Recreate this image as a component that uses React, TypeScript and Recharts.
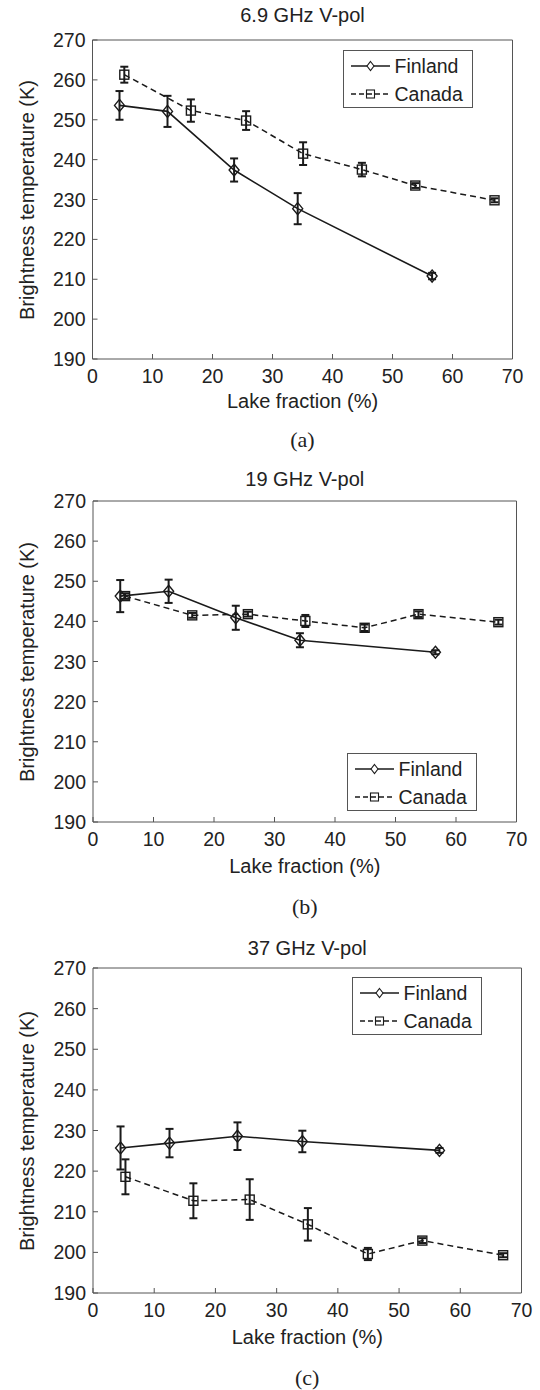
import React from "react";
import { ErrorBar, Legend, Line, LineChart, XAxis, YAxis } from "recharts";

// lake fraction bins (%)
const finlandLake = [4.5, 12.5, 23.6, 34.2, 56.6];
const canadaLake = [5.3, 16.4, 25.6, 35.1, 44.9, 53.8, 67.0];

// 6.9 GHz V-pol brightness temperature (K) and +/- std
const finland69 = [253.6, 252.1, 237.4, 227.7, 210.8];
const finland69Err = [3.6, 3.9, 2.9, 3.9, 0.8];
const canada69 = [261.3, 252.3, 249.8, 241.5, 237.5, 233.5, 229.8];
const canada69Err = [2.0, 2.8, 2.35, 2.85, 1.7, 0.6, 0.5];

// 19 GHz V-pol
const finland19 = [246.3, 247.5, 240.9, 235.3, 232.3];
const finland19Err = [4.0, 2.9, 3.0, 1.75, 0.5];
const canada19 = [246.3, 241.5, 241.8, 240.1, 238.4, 241.8, 239.8];
const canada19Err = [0.7, 0.6, 0.6, 1.5, 0.8, 0.7, 0.6];

// 37 GHz V-pol
const finland37 = [225.7, 226.9, 228.6, 227.3, 225.1];
const finland37Err = [5.3, 3.5, 3.4, 2.65, 0.6];
const canada37 = [218.6, 212.7, 213.0, 206.9, 199.6, 202.9, 199.3];
const canada37Err = [4.3, 4.3, 5.0, 4.0, 1.5, 0.6, 0.5];

const xTicks = [0, 10, 20, 30, 40, 50, 60, 70];
const yTicks = [190, 200, 210, 220, 230, 240, 250, 260, 270];

type Pt = { x: number; y: number; err: number };

const toPoints = (xs: number[], ys: number[], es: number[]): Pt[] =>
  xs.map((x, i) => ({ x, y: ys[i], err: es[i] }));

const INK = "#1a1a1a";
const AXIS = "#555";
const TEXT = "#222";
const SANS = '"Liberation Sans", Arial, Helvetica, sans-serif';
const SERIF = '"Liberation Serif", "Times New Roman", serif';

const panels = [
  {
    title: "6.9 GHz V-pol",
    caption: "(a)",
    finland: toPoints(finlandLake, finland69, finland69Err),
    canada: toPoints(canadaLake, canada69, canada69Err),
    top: 0,
    height: 460,
    plot: { left: 92.5, right: 512.5, top: 40, bottom: 359 },
    legendTop: 50,
    titleY: 22,
    labelY: 408,
    captionY: 448,
  },
  {
    title: "19 GHz V-pol",
    caption: "(b)",
    finland: toPoints(finlandLake, finland19, finland19Err),
    canada: toPoints(canadaLake, canada19, canada19Err),
    top: 460,
    height: 460,
    plot: { left: 93, right: 516.5, top: 501, bottom: 822 },
    legendTop: 753,
    titleY: 486,
    labelY: 873,
    captionY: 915,
  },
  {
    title: "37 GHz V-pol",
    caption: "(c)",
    finland: toPoints(finlandLake, finland37, finland37Err),
    canada: toPoints(canadaLake, canada37, canada37Err),
    top: 920,
    height: 470,
    plot: { left: 93, right: 521.5, top: 968, bottom: 1293 },
    legendTop: 977,
    titleY: 955,
    labelY: 1344,
    captionY: 1386,
  },
];

// MATLAB-style ticks: short marks pointing into the plot box
function BoxTick(props: any) {
  const { x, y, payload, side } = props;
  const len = 5;
  const v = payload.value;
  if (side === "bottom") {
    return (
      <g>
        <line x1={x} y1={y} x2={x} y2={y - len} stroke={AXIS} strokeWidth={1} />
        <text x={x} y={y + 24} textAnchor="middle" fill={TEXT} fontSize={19.5} fontFamily={SANS}>
          {v}
        </text>
      </g>
    );
  }
  if (side === "left") {
    return (
      <g>
        <line x1={x} y1={y} x2={x + len} y2={y} stroke={AXIS} strokeWidth={1} />
        <text x={x - 7} y={y + 7} textAnchor="end" fill={TEXT} fontSize={19.5} fontFamily={SANS}>
          {v}
        </text>
      </g>
    );
  }
  if (side === "top") {
    return <line x1={x} y1={y} x2={x} y2={y + len} stroke={AXIS} strokeWidth={1} />;
  }
  return <line x1={x} y1={y} x2={x - len} y2={y} stroke={AXIS} strokeWidth={1} />;
}

const diamondPath = (cx: number, cy: number, w = 4.5, h = 5.5) =>
  `M${cx},${cy - h}L${cx + w},${cy}L${cx},${cy + h}L${cx - w},${cy}Z`;

const diamondDot = (p: any) => (
  <path key={`fi-${p.index}`} d={diamondPath(p.cx, p.cy, 5, 6)} fill="none" stroke={INK} strokeWidth={1.4} />
);

const squareDot = (p: any) => (
  <rect
    key={`ca-${p.index}`}
    x={p.cx - 4.5}
    y={p.cy - 4.5}
    width={9}
    height={9}
    fill="none"
    stroke={INK}
    strokeWidth={1.4}
  />
);

function LegendBox() {
  const row = (label: string, dashed: boolean, y: number) => (
    <div style={{ position: "absolute", left: 0, top: y - 14, height: 28, width: "100%" }}>
      <svg width={50} height={28} style={{ position: "absolute", left: 0, top: 0 }}>
        <line
          x1={7}
          y1={14}
          x2={46}
          y2={14}
          stroke={INK}
          strokeWidth={1.5}
          strokeDasharray={dashed ? "5 3" : undefined}
        />
        {dashed ? (
          <rect x={22.5} y={10} width={8} height={8} fill="none" stroke={INK} strokeWidth={1.1} />
        ) : (
          <path d={diamondPath(26.5, 14, 3.5, 4.5)} fill="#fff" stroke={INK} strokeWidth={1.1} />
        )}
      </svg>
      <span
        style={{
          position: "absolute",
          left: 51,
          top: 4,
          fontSize: 19.5,
          lineHeight: "20px",
          fontFamily: SANS,
          color: TEXT,
          whiteSpace: "nowrap",
        }}
      >
        {label}
      </span>
    </div>
  );
  return (
    <div
      style={{
        position: "relative",
        width: 128,
        height: 56,
        border: `1px solid ${AXIS}`,
        background: "#fff",
      }}
    >
      {row("Finland", false, 15)}
      {row("Canada", true, 43)}
    </div>
  );
}

function Panel({ cfg }: { cfg: (typeof panels)[number] }) {
  const { plot } = cfg;
  // each axis band is 1px wide, so the axis lines sit exactly on the plot box
  const margin = {
    top: plot.top - cfg.top - 1,
    left: plot.left - 1,
    right: 540 - plot.right - 1,
    bottom: cfg.top + cfg.height - plot.bottom - 1,
  };
  const legendLeft = plot.right - 40 - 130;
  return (
    <div style={{ position: "absolute", left: 0, top: cfg.top, width: 540, height: cfg.height }}>
      <LineChart width={540} height={cfg.height} margin={margin}>
        <XAxis
          type="number"
          dataKey="x"
          domain={[0, 70]}
          ticks={xTicks}
          height={1}
          tickSize={0}
          tickMargin={0}
          tickLine={false}
          axisLine={{ stroke: AXIS }}
          tick={(p: any) => <BoxTick {...p} side="bottom" />}
          allowDataOverflow
        />
        <XAxis
          xAxisId="top"
          orientation="top"
          type="number"
          dataKey="x"
          domain={[0, 70]}
          ticks={xTicks}
          height={1}
          tickSize={0}
          tickMargin={0}
          tickLine={false}
          axisLine={{ stroke: AXIS }}
          tick={(p: any) => <BoxTick {...p} side="top" />}
        />
        <YAxis
          type="number"
          domain={[190, 270]}
          ticks={yTicks}
          width={1}
          tickSize={0}
          tickMargin={0}
          tickLine={false}
          axisLine={{ stroke: AXIS }}
          tick={(p: any) => <BoxTick {...p} side="left" />}
          allowDataOverflow
        />
        <YAxis
          yAxisId="right"
          orientation="right"
          type="number"
          domain={[190, 270]}
          ticks={yTicks}
          width={1}
          tickSize={0}
          tickMargin={0}
          tickLine={false}
          axisLine={{ stroke: AXIS }}
          tick={(p: any) => <BoxTick {...p} side="right" />}
        />
        <Legend
          layout="horizontal"
          align="center"
          verticalAlign="middle"
          content={() => <LegendBox />}
          wrapperStyle={{ left: legendLeft, top: cfg.legendTop - cfg.top, width: 130, height: 58 }}
        />
        <Line
          name="Canada"
          data={cfg.canada}
          dataKey="y"
          stroke={INK}
          strokeWidth={1.5}
          strokeDasharray="6 4"
          dot={squareDot}
          activeDot={false}
          isAnimationActive={false}
        >
          <ErrorBar dataKey="err" direction="y" width={4} stroke={INK} strokeWidth={2} />
        </Line>
        <Line
          name="Finland"
          data={cfg.finland}
          dataKey="y"
          stroke={INK}
          strokeWidth={1.6}
          dot={diamondDot}
          activeDot={false}
          isAnimationActive={false}
        >
          <ErrorBar dataKey="err" direction="y" width={4} stroke={INK} strokeWidth={2} />
        </Line>
      </LineChart>
    </div>
  );
}

function Texts({ cfg }: { cfg: (typeof panels)[number] }) {
  const { plot } = cfg;
  const cx = (plot.left + plot.right) / 2;
  const cy = (plot.top + plot.bottom) / 2;
  const base: React.CSSProperties = {
    position: "absolute",
    whiteSpace: "nowrap",
    textAlign: "center",
    width: 300,
    lineHeight: "20px",
    color: TEXT,
    fontFamily: SANS,
    fontSize: 20,
  };
  return (
    <>
      <div style={{ ...base, left: cx - 150, top: cfg.titleY - 17 }}>{cfg.title}</div>
      <div style={{ ...base, left: cx - 150, top: cfg.labelY - 17 }}>Lake fraction (%)</div>
      <div
        style={{
          ...base,
          left: 27 - 150,
          top: cy - 10,
          transform: "rotate(-90deg)",
        }}
      >
        Brightness temperature (K)
      </div>
      <div
        style={{
          ...base,
          left: cx - 150,
          top: cfg.captionY - 19,
          fontFamily: SERIF,
          fontSize: 22,
          lineHeight: "22px",
        }}
      >
        {cfg.caption}
      </div>
    </>
  );
}

export default function App() {
  return (
    <div style={{ position: "absolute", left: 0, top: 0, width: 540, height: 1390, background: "#fff" }}>
      {panels.map((cfg) => (
        <React.Fragment key={cfg.caption}>
          <Panel cfg={cfg} />
          <Texts cfg={cfg} />
        </React.Fragment>
      ))}
    </div>
  );
}
